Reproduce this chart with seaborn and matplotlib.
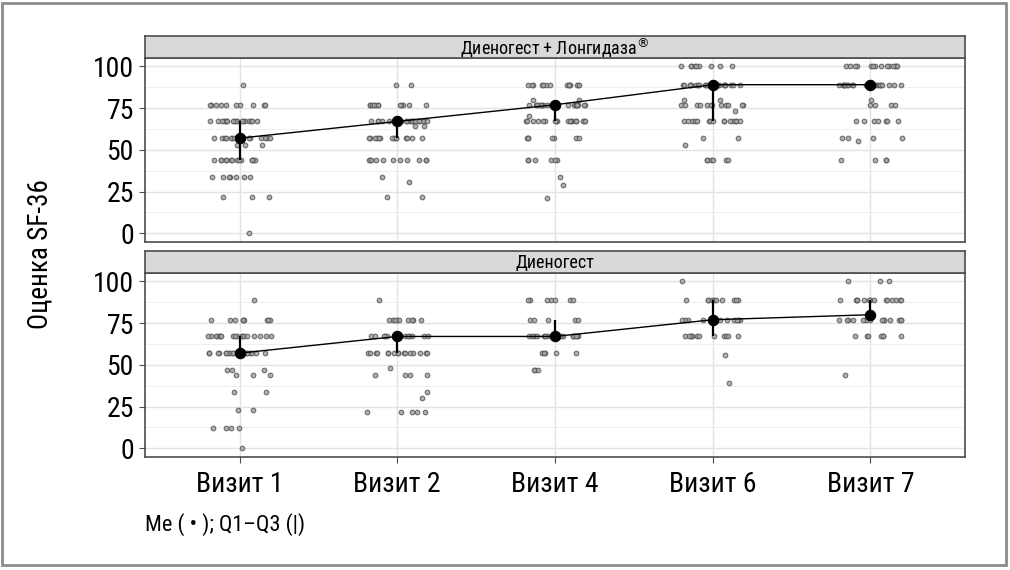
import numpy as np
import pandas as pd
import seaborn as sns
import matplotlib.pyplot as plt
from matplotlib import font_manager
from matplotlib.patches import Rectangle

visits = ['Визит 1', 'Визит 2', 'Визит 4', 'Визит 6', 'Визит 7']
groups = ['Диеногест + Лонгидаза®', 'Диеногест']

# (score, number of patients), per visit
combo_counts = [
    [(89, 1), (77, 10), (67, 18), (57, 15), (53, 3), (44, 14), (34, 7), (22, 3), (0, 1)],
    [(89, 2), (77, 12), (67, 22), (64, 2), (57, 14), (44, 11), (34, 1), (31, 1), (22, 2)],
    [(89, 14), (80, 2), (77, 20), (70, 1), (67, 18), (57, 7), (44, 6), (34, 1), (29, 1), (21, 1)],
    [(100, 9), (89, 22), (80, 2), (77, 12), (73, 1), (67, 15), (57, 2), (53, 1), (44, 6)],
    [(100, 14), (89, 24), (80, 1), (77, 4), (67, 7), (57, 4), (55, 1), (44, 4)],
]
dieno_counts = [
    [(89, 1), (77, 9), (67, 18), (57, 16), (47, 3), (44, 3), (34, 2), (23, 2), (12, 4), (0, 1)],
    [(89, 1), (77, 9), (67, 14), (57, 16), (48, 1), (44, 4), (34, 1), (30, 1), (22, 5)],
    [(89, 7), (77, 5), (67, 18), (57, 5), (47, 3)],
    [(100, 1), (89, 10), (77, 12), (67, 12), (56, 1), (39, 1)],
    [(100, 3), (89, 14), (77, 14), (67, 7), (44, 1)],
]

combo_med = [57, 67, 77, 89, 89]
combo_q1 = [44, 57, 67, 67, 89]
combo_q3 = [67, 67, 77, 89, 89]
dieno_med = [57, 67, 67, 77, 80]
dieno_q1 = [57, 57, 67, 67, 80]
dieno_q3 = [67, 67, 77, 89, 89]

rows = []
for grp, counts in zip(groups, [combo_counts, dieno_counts]):
    for visit, pairs in zip(visits, counts):
        for score, n in pairs:
            rows += [{'group': grp, 'visit': visit, 'score': score}] * n
df = pd.DataFrame(rows)

stats = {groups[0]: (combo_med, combo_q1, combo_q3),
         groups[1]: (dieno_med, dieno_q1, dieno_q3)}
strip_labels = {groups[0]: 'Диеногест + Лонгидаза' + r'$^{\circledR}$',
                groups[1]: 'Диеногест'}

sns.set_style('white')
available = {f.name for f in font_manager.fontManager.ttflist}
base = 'Liberation Sans'
for fam in ['Roboto Condensed', 'Liberation Sans Narrow', 'DejaVu Sans Condensed']:
    if fam in available:
        base = fam
        break
plt.rcParams['font.family'] = [base, 'DejaVu Sans']
plt.rcParams['text.color'] = 'black'
plt.rcParams['xtick.labelcolor'] = 'black'
plt.rcParams['ytick.labelcolor'] = 'black'

np.random.seed(3)
fig = plt.figure(figsize=(10.1, 5.7), dpi=100)

panel_tops = [58, 273]
for i, grp in enumerate(groups):
    top = panel_tops[i]
    ax = fig.add_axes([145 / 1010, 1 - (top + 184) / 570, 820 / 1010, 184 / 570])
    sax = fig.add_axes([145 / 1010, 1 - top / 570, 820 / 1010, 22 / 570])
    sub = df[df['group'] == grp]

    sns.stripplot(data=sub, x='visit', y='score', order=visits, jitter=0.2,
                  color='#a3a3a3', edgecolor='#505050', linewidth=0.7, size=3.4,
                  alpha=0.85, ax=ax, zorder=3)

    med, q1, q3 = stats[grp]
    ax.vlines(np.arange(len(visits)), q1, q3, color='black', lw=1.6, zorder=4)
    med_df = pd.DataFrame({'visit': visits, 'score': med})
    sns.pointplot(data=med_df, x='visit', y='score', order=visits, color='black',
                  markersize=7.5, linewidth=1.0, errorbar=None, ax=ax)
    for coll in ax.collections[1:]:
        coll.set_zorder(5)
    for ln in ax.lines:
        ln.set_zorder(5)

    ax.set_xlim(-0.6, 4.6)
    ax.set_ylim(-5.2, 105)
    ax.set_yticks([0, 25, 50, 75, 100])
    ax.set_yticks([12.5, 37.5, 62.5, 87.5], minor=True)
    ax.grid(True, which='major', color='#e3e3e3', lw=1.0, zorder=0)
    ax.grid(True, which='minor', axis='y', color='#ececec', lw=0.6, zorder=0)
    ax.set_axisbelow(True)
    for s in ax.spines.values():
        s.set_color('#4d4d4d')
        s.set_linewidth(1.2)
    ax.set_xlabel('')
    ax.set_ylabel('')
    ax.tick_params(axis='y', which='major', length=4, width=0.8, color='#4d4d4d',
                   labelsize=20, pad=4, left=True)
    ax.tick_params(axis='y', which='minor', length=0)
    if i == 0:
        ax.tick_params(axis='x', bottom=False, labelbottom=False)
    else:
        ax.tick_params(axis='x', length=4, width=0.8, color='#4d4d4d',
                       labelsize=20, pad=6, bottom=True)

    sax.set_facecolor('#d9d9d9')
    sax.set_xticks([])
    sax.set_yticks([])
    for s in sax.spines.values():
        s.set_color('#4d4d4d')
        s.set_linewidth(1.2)
    sax.text(0.5, 0.45, strip_labels[grp], ha='center', va='center', fontsize=13,
             transform=sax.transAxes)

fig.text(0.040, 0.555, 'Оценка SF-36', rotation=90, ha='center', va='center',
         fontsize=19.5)
fig.text(145 / 1010, 1 - 525 / 570, 'Me ( • ); Q1–Q3 (|)', ha='left', va='center',
         fontsize=16)
fig.patches.append(Rectangle((0.002, 0.008), 0.994, 0.986, transform=fig.transFigure,
                             fill=False, edgecolor='#8c8c8c', lw=2))

fig.savefig('out.png', dpi=100)
